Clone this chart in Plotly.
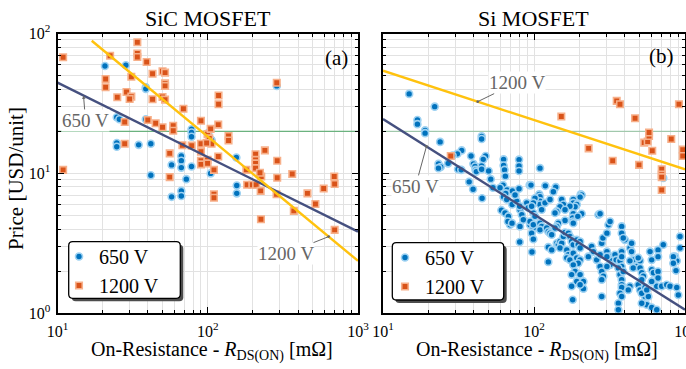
import numpy as np
import plotly.graph_objects as go

# ---------------- data ----------------
# SiC MOSFET, 650 V  (R_DS(on) [mOhm], price [USD/unit])
sic650_r = [20.7, 28.5, 38.7, 38.7, 24.8, 25.8, 38.7, 24.8, 24.8, 34.7, 41.8, 78, 78, 78,
            66.7, 66.7, 66.7, 57.5, 78, 41.8, 72, 57.5, 66.7, 66.7, 106, 101, 155, 104.5,
            156, 156, 288]
sic650_p = [58.6, 59.3, 41.3, 40.2, 25.2, 24.4, 24.4, 16.5, 15.5, 16.0, 16.3, 20.7, 19.6, 18.3,
            13.3, 12.3, 11.0, 11.5, 11.2, 9.7, 9.1, 6.8, 7.5, 6.9, 17.3, 19.5, 13.0, 10.0,
            8.2, 7.2, 42.2]

# SiC MOSFET, 1200 V
sic1200_r = [10.9, 34, 34, 34, 22.4, 39.2, 20.9, 20.9, 31, 42.9, 50, 52, 52, 52, 28.8, 25, 31,
             30.2, 42.9, 50, 52, 68.9, 28, 39.9, 45, 50, 58.9, 58.9, 90.1, 28, 78.2, 90.1, 90.1,
             55.8, 90.1, 90.1, 10.9, 117.5, 99.7, 102.4, 106, 98.3, 99.7, 99.7, 117.5, 110,
             118, 118, 104.5, 137.5, 137.5, 67.8, 240, 208, 208, 290, 208, 208, 180.7, 227, 290,
             365, 695, 55.8, 288, 222.6, 110, 110, 183, 198, 210, 225, 287, 461, 591, 521, 374,
             226, 699, 699]
sic1200_p = [67.6, 86.5, 72, 68, 69.3, 62.5, 47.3, 41.3, 49.1, 51.6, 53.7, 52.5, 44, 42.2, 38.2,
             35, 35.4, 34, 33.9, 35.2, 33.7, 29, 23.3, 24.1, 22.8, 21.4, 21.9, 20.2, 23.8, 16.3,
             15.8, 16.3, 14.3, 13.9, 12.3, 11.6, 10.6, 22.3, 19.1, 17.8, 16.3, 16.5, 12.5, 11.8,
             13.2, 10.6, 36, 31.2, 20.8, 18.5, 17.2, 15.9, 14.6, 13.7, 12.5, 12.3, 11.8, 10.9,
             10.6, 9.5, 9.3, 9.9, 9.5, 9.4, 44.5, 10.1, 7.1, 6.7, 8.3, 8.3, 8.3, 7.5, 7.1, 7.2,
             7.8, 6.05, 5.4, 4.7, 3.95, 8.4]

# Si MOSFET, 650 V
si650_r = [14.9, 22.0, 16.9, 16.9, 19.0, 19.0, 23.9, 45.0, 45.0, 33.2, 31.1, 28.9, 23.3, 24.1,
           23.3, 27.0, 31.4, 33.0, 38.3, 39.7, 40.7, 41.0, 41.5, 47.8, 46.1, 45.0, 45.0, 50.1,
           62.9, 62.9, 63.8, 64.6, 79.6, 79.6, 79.6, 51.7, 37.2, 39.5, 53.5, 62.4, 66.3, 71.9,
           79.6, 93.6, 65.0, 109.6, 95.5, 118.8, 139.3, 204, 718, 108.4, 45.3, 59.6, 62.8, 66.0,
           60.8, 64.3, 67.7, 69.4, 67.2, 71.7, 76.9, 74.9, 80.8, 83.0, 85.0, 80.8, 89.5, 91.7,
           80.4, 80.4, 97.0, 94.1, 99.0, 96.5, 71.5, 207, 202, 182, 182, 192, 187, 152.6, 156.5,
           148.7, 141.5, 137.8, 207, 182, 180.4, 180.4, 182, 160.5, 145, 141.5, 137.8, 99.0,
           101.5, 109.6, 109.6, 109.6, 112.4, 101.5, 99.0, 96.5, 118.3, 94.1, 99.0, 109.6, 112.4,
           109.6, 121.4, 124.4, 127.7, 131, 99.0, 124.4, 131, 141.5, 145, 148.7, 152.6, 148.7,
           156.5, 160.5, 168.8, 173, 182, 177.5, 182, 192, 202, 196.3, 202, 164.8, 168.8, 164.8,
           173, 182, 192, 202, 196.3, 182, 187, 177.5, 192, 212.5, 177.5, 212.5, 180.4, 124.4,
           241, 247, 229, 260, 274, 281, 286, 304, 311, 319, 267, 274, 274, 281, 288, 281, 304,
           319, 327, 319, 344, 350, 371, 381, 362, 281, 381, 381, 400, 381, 381, 371, 381, 381,
           381, 371, 381, 432, 443, 454, 432, 479, 454, 504, 504, 517, 432, 421, 490, 504, 544,
           362, 362, 530, 544, 558, 602, 650, 587, 602, 602, 618, 663, 718, 663, 663, 650, 701,
           757, 796, 882, 859, 882, 872, 927, 517, 903, 927, 572, 602, 663, 837, 837, 390, 390,
           443, 490, 517, 517, 558, 304, 304, 202, 202, 173, 195, 160.5, 127.7, 134.3]
si650_p = [37.0, 30.0, 24.1, 22.5, 20.3, 19.4, 16.8, 18.4, 17.6, 14.6, 13.8, 13.4, 11.7, 11.1,
           10.9, 11.8, 10.7, 10.6, 13.3, 11.7, 11.2, 10.6, 10.3, 13.3, 12.6, 11.3, 10.7, 10.4,
           12.6, 11.4, 10.6, 9.56, 12.55, 11.3, 10.4, 9.1, 8.7, 7.7, 7.9, 8.25, 7.6, 7.48,
           7.76, 8.25, 7.2, 10.9, 8.25, 8.15, 7.98, 7.08, 9.27, 7.08, 6.64, 7.9, 6.81, 6.5,
           5.46, 5.21, 4.93, 4.29, 4.53, 5.99, 6.32, 7.0, 5.5, 5.07, 4.66, 4.18, 6.16, 5.68,
           5.82, 3.23, 2.74, 4.29, 4.07, 3.74, 4.41, 7.0, 6.77, 6.5, 6.16, 6.0, 5.77, 6.5, 6.0,
           5.77, 5.35, 5.21, 5.15, 5.15, 4.81, 4.53, 4.41, 4.61, 4.41, 4.18, 4.07, 5.21,
           4.93, 6.81, 6.32, 6.0, 5.5, 6.64, 6.16, 5.82, 6.16, 4.53, 4.29, 4.41, 4.18,
           3.95, 4.07, 3.84, 3.74, 3.64, 3.39, 2.97, 2.84, 3.17, 3.09, 3.26, 3.17, 2.93,
           3.54, 3.78, 3.74, 3.54, 3.35, 3.26, 3.09, 3.35, 3.26, 3.09, 2.93, 2.84, 2.62, 2.49,
           2.41, 2.69, 2.49, 2.41, 2.28, 2.22, 1.99, 1.89, 1.69, 1.69, 1.56, 1.50, 1.25, 2.33,
           3.0, 2.76, 2.54, 2.41, 2.62, 3.17, 3.45, 3.74, 4.29, 4.53, 5.07, 5.15, 2.16, 1.99, 1.84, 1.74, 2.76,
           2.54, 2.37, 2.22, 2.62, 2.41, 2.37, 2.16, 2.11, 1.32, 4.18, 3.74, 3.35, 2.76, 2.54, 1.89, 1.74, 1.60,
           1.53, 1.39, 1.32, 2.93, 2.76, 2.41, 2.37, 2.16, 2.11, 2.37, 2.11, 1.95, 1.56, 1.47, 1.60, 1.47, 1.53,
           1.18, 1.06, 1.84, 1.32, 1.15, 1.10, 1.06, 2.76, 2.41, 2.05, 1.95, 2.84, 3.09, 1.99, 1.79, 1.56, 1.56,
           1.60, 1.56, 1.53, 2.54, 2.37, 2.02, 2.93, 1.18, 1.35, 3.54, 1.32, 1.69, 2.54, 2.54, 2.28, 3.45, 1.99,
           3.17, 2.49, 1.74, 1.39, 1.47, 2.54, 2.16, 1.89, 1.60, 5.82, 4.93, 5.5, 6.5, 7.4]

# Si MOSFET, 1200 V
si1200_r = [28.1, 151.7, 230, 332, 353, 371, 467, 496, 537, 566, 578, 578, 607, 701, 701, 701,
            701, 811, 912, 966, 966]
si1200_p = [13.3, 25.5, 15.1, 12.3, 33, 31.2, 24.8, 11.5, 16.6, 16.9, 18.5, 19.6, 14.5, 10.7,
            9.8, 9.4, 7.6, 17.6, 31.2, 14.8, 13.3]

# power-law fit lines (end points)
sic650_fit_r, sic650_fit_p = [10, 1000], [44.6, 3.84]
sic1200_fit_r, sic1200_fit_p = [16.9, 1000], [88.8, 2.37]
si650_fit_r, si650_fit_p = [10, 1000], [24.5, 1.06]
si1200_fit_r, si1200_fit_p = [10, 1000], [54.2, 10.7]
ref_price = 20

x_tickvals = [10, 100, 1000]
x_ticktext = ["10<sup>1</sup>", "10<sup>2</sup>", "10<sup>3</sup>"]
y_tickvals = [1, 10, 100]
y_ticktext = ["10<sup>0</sup>", "10<sup>1</sup>", "10<sup>2</sup>"]
minor_x = [m * d for d in (10, 100) for m in range(2, 10)]
minor_y = [m * d for d in (1, 10) for m in range(2, 10)]

# ---------------- styling ----------------
W, H = 686, 369
FONT = "Liberation Serif"
BLUE, BLUE_EDGE = "#0072BD", "#9ed2f2"
ORANGE, ORANGE_EDGE = "#D95319", "#f7b08a"
NAVY = "#45507f"
YELLOW = "#FFC20E"
GRAY = "#666666"


def px(x):
    return x / W


def py(y):
    return 1 - y / H


fig = go.Figure()

# reference price lines
for xa, ya, col in (("x", "y", "#4aa564"), ("x2", "y2", "rgba(74,165,100,0.55)")):
    fig.add_trace(go.Scatter(x=[10, 1000], y=[ref_price, ref_price], mode="lines",
                             line=dict(color=col, width=1), xaxis=xa, yaxis=ya,
                             showlegend=False, hoverinfo="skip"))

def pts(r, p, name, xa, ya, leg, circle):
    return go.Scatter(
        x=r, y=p, mode="markers", name=name, xaxis=xa, yaxis=ya, legend=leg,
        marker=dict(symbol="circle" if circle else "square", size=7 if circle else 6.5,
                    color=BLUE if circle else ORANGE,
                    line=dict(color=BLUE_EDGE if circle else ORANGE_EDGE, width=1.6)))

fig.add_trace(pts(sic650_r, sic650_p, "650 V", "x", "y", "legend", True))
fig.add_trace(pts(sic1200_r, sic1200_p, "1200 V", "x", "y", "legend", False))
fig.add_trace(pts(si650_r, si650_p, "650 V", "x2", "y2", "legend2", True))
fig.add_trace(pts(si1200_r, si1200_p, "1200 V", "x2", "y2", "legend2", False))

for r, p, col, xa, ya in ((sic650_fit_r, sic650_fit_p, NAVY, "x", "y"),
                          (sic1200_fit_r, sic1200_fit_p, YELLOW, "x", "y"),
                          (si650_fit_r, si650_fit_p, NAVY, "x2", "y2"),
                          (si1200_fit_r, si1200_fit_p, YELLOW, "x2", "y2")):
    fig.add_trace(go.Scatter(x=r, y=p, mode="lines", line=dict(color=col, width=2.4),
                             xaxis=xa, yaxis=ya, showlegend=False, hoverinfo="skip"))

ax_common = dict(type="log", showline=True, linecolor="black", linewidth=2, mirror="ticks",
                 ticks="inside", ticklen=6, tickwidth=1, tickcolor="black",
                 showgrid=True, gridcolor="#e2e2e2", gridwidth=1, zeroline=False,
                 automargin=False,
                 tickfont=dict(family=FONT, size=16, color="black"),
                 minor=dict(ticks="inside", ticklen=3, tickcolor="black", showgrid=True,
                            gridcolor="#e2e2e2", gridwidth=1))

ydom = [py(313.3), py(33.5)]
fig.update_layout(
    width=W, height=H, margin=dict(l=0, r=0, t=0, b=0, pad=0, autoexpand=False),
    plot_bgcolor="white", paper_bgcolor="white",
    font=dict(family=FONT, color="black"),
    xaxis=dict(ax_common, domain=[px(57.5), px(358)], range=[1, 3], anchor="y",
               tickmode="array", tickvals=x_tickvals, ticktext=x_ticktext,
               minor=dict(ax_common["minor"], tickmode="array", tickvals=minor_x),
               ticklabelstandoff=2, ticklabeloverflow="allow"),
    yaxis=dict(ax_common, domain=ydom, range=[0, 2], anchor="x",
               tickmode="array", tickvals=y_tickvals, ticktext=y_ticktext,
               minor=dict(ax_common["minor"], tickmode="array", tickvals=minor_y),
               ticklabelstandoff=2, ticklabeloverflow="allow"),
    xaxis2=dict(ax_common, domain=[px(383), px(685)], range=[1, 3], anchor="y2",
                tickmode="array", tickvals=x_tickvals, ticktext=x_ticktext,
                minor=dict(ax_common["minor"], tickmode="array", tickvals=minor_x),
                ticklabelstandoff=2, ticklabeloverflow="allow"),
    yaxis2=dict(ax_common, domain=ydom, range=[0, 2], anchor="x2",
                tickmode="array", tickvals=y_tickvals, ticktext=y_ticktext,
                showticklabels=False,
                minor=dict(ax_common["minor"], tickmode="array", tickvals=minor_y)),
    legend=dict(x=px(59), y=py(237), xanchor="left", yanchor="top",
                bgcolor="rgba(0,0,0,0)", borderwidth=0,
                font=dict(family=FONT, size=20, color="black"), tracegroupgap=0),
    legend2=dict(x=px(385), y=py(238), xanchor="left", yanchor="top",
                 bgcolor="rgba(0,0,0,0)", borderwidth=0,
                 font=dict(family=FONT, size=20, color="black"), tracegroupgap=0),
    showlegend=True,
)


def rrect(x0, y0, x1, y1, r=4):
    # rounded rectangle path in paper coords from pixel box
    return (f"M {px(x0 + r)} {py(y0)} L {px(x1 - r)} {py(y0)} "
            f"Q {px(x1)} {py(y0)} {px(x1)} {py(y0 + r)} L {px(x1)} {py(y1 - r)} "
            f"Q {px(x1)} {py(y1)} {px(x1 - r)} {py(y1)} L {px(x0 + r)} {py(y1)} "
            f"Q {px(x0)} {py(y1)} {px(x0)} {py(y1 - r)} L {px(x0)} {py(y0 + r)} "
            f"Q {px(x0)} {py(y0)} {px(x0 + r)} {py(y0)} Z")

shapes = []
for (x0, y0, x1, y1) in ((68.7, 241.7, 180.3, 298.3), (392.3, 242.7, 503.7, 300)):
    shapes.append(dict(type="path", path=rrect(x0 + 3, y0 + 3, x1 + 3, y1 + 3),
                       xref="paper", yref="paper", fillcolor="#4d4d4d",
                       line=dict(width=0), layer="above"))
    shapes.append(dict(type="path", path=rrect(x0, y0, x1, y1),
                       xref="paper", yref="paper", fillcolor="white",
                       line=dict(color="black", width=1.3), layer="above"))
fig.update_layout(shapes=shapes)

ann = []
# titles
ann.append(dict(text="SiC MOSFET", x=px(207.5), y=py(19), xref="paper", yref="paper",
                showarrow=False, font=dict(size=22), xanchor="center", yanchor="middle"))
ann.append(dict(text="Si MOSFET", x=px(533.7), y=py(19), xref="paper", yref="paper",
                showarrow=False, font=dict(size=22), xanchor="center", yanchor="middle"))
xt = "On-Resistance - <i>R</i><sub>DS(ON)</sub> [mΩ]"
ann.append(dict(text=xt, x=px(211.5), y=py(351), xref="paper", yref="paper",
                showarrow=False, font=dict(size=20), xanchor="center", yanchor="middle"))
ann.append(dict(text=xt, x=px(536.7), y=py(351), xref="paper", yref="paper",
                showarrow=False, font=dict(size=20), xanchor="center", yanchor="middle"))
ann.append(dict(text="Price [USD/unit]", x=px(16), y=py(179), xref="paper", yref="paper",
                showarrow=False, font=dict(size=21), textangle=-90,
                xanchor="center", yanchor="middle"))
ann.append(dict(text="(a)", x=px(336.7), y=py(58.3), xref="paper", yref="paper",
                showarrow=False, font=dict(size=21), xanchor="center", yanchor="middle"))
ann.append(dict(text="(b)", x=px(661), y=py(56.3), xref="paper", yref="paper",
                showarrow=False, font=dict(size=21), xanchor="center", yanchor="middle"))


def on_line(r_fit, p_fit, r):
    lr = np.log10(r_fit)
    lp = np.log10(p_fit)
    return float(np.interp(np.log10(r), lr, lp))


def fit_label(text, r_fit, p_fit, r_head, xa, ya, axp, ayp, head):
    return dict(text=text, x=float(np.log10(r_head)), y=on_line(r_fit, p_fit, r_head),
                xref=xa, yref=ya, showarrow=True, ax=axp, ay=ayp,
                arrowhead=head, arrowsize=0.7, arrowwidth=1, arrowcolor=GRAY,
                font=dict(size=19, color=GRAY), bgcolor="white", borderpad=0)

ann.append(fit_label("650 V", sic650_fit_r, sic650_fit_p, 14.9, "x", "y", 2, 25, 2))
ann.append(fit_label("1200 V", sic1200_fit_r, sic1200_fit_p, 638, "x", "y", -43, 17, 6))
ann.append(fit_label("1200 V", si1200_fit_r, si1200_fit_p, 42.4, "x2", "y2", 39, -19, 6))
ann.append(fit_label("650 V", si650_fit_r, si650_fit_p, 19.4, "x2", "y2", -11, 40, 6))

fig.update_layout(annotations=ann)

fig.write_html("out.html", config={"displayModeBar": False})
